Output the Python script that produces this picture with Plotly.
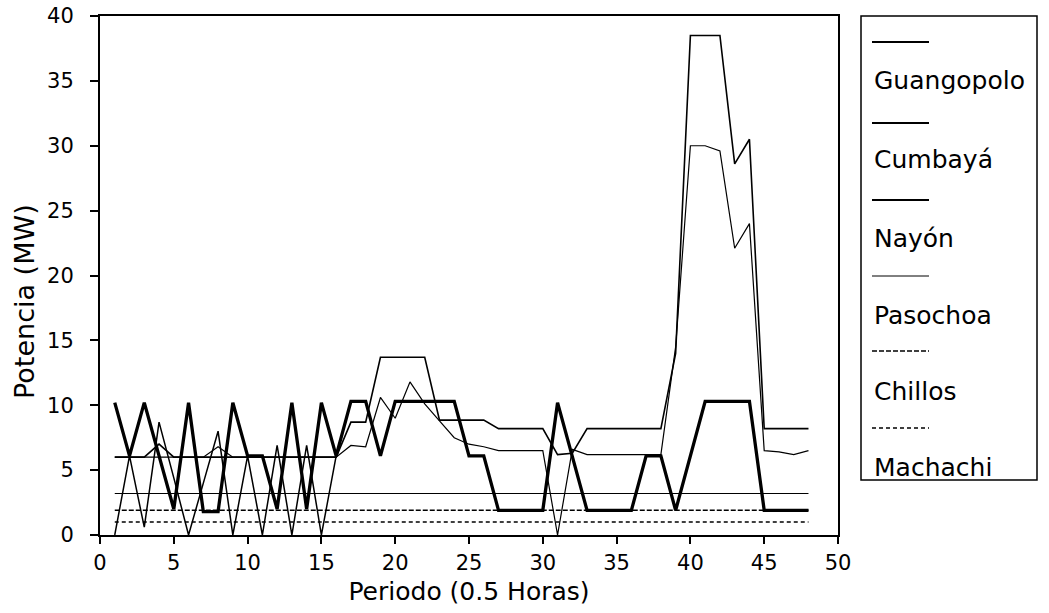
import plotly.graph_objects as go

# ---------------- data ----------------
periods = list(range(1, 49))
periods_b = list(range(1, 17))

guangopolo = [10.2, 6.1, 10.2, 6.1, 2.0, 10.2, 1.8, 1.8, 10.2, 6.1,
              6.1, 2.0, 10.2, 2.0, 10.2, 6.1, 10.3, 10.3, 6.1, 10.3,
              10.3, 10.3, 10.3, 10.3, 6.1, 6.1, 1.9, 1.9, 1.9, 1.9,
              10.2, 6.0, 1.9, 1.9, 1.9, 1.9, 6.1, 6.1, 1.9, 6.1,
              10.3, 10.3, 10.3, 10.3, 1.9, 1.9, 1.9, 1.9]

# second (thin) zig-zag trace visible in the first half of the day
guangopolo_b = [0.0, 6.1, 0.6, 8.7, 4.4, 0.0, 4.0, 8.0, 0.0, 6.1,
                0.0, 6.9, 0.0, 6.9, 0.0, 6.1]

cumbaya = [6.0, 6.0, 6.0, 7.0, 6.0, 6.0, 6.0, 6.0, 6.0, 6.0,
           6.0, 6.0, 6.0, 6.0, 6.0, 6.0, 8.7, 8.7, 13.7, 13.7,
           13.7, 13.7, 8.85, 8.85, 8.85, 8.85, 8.2, 8.2, 8.2, 8.2,
           6.2, 6.3, 8.2, 8.2, 8.2, 8.2, 8.2, 8.2, 14.0, 38.5,
           38.5, 38.5, 28.6, 30.5, 8.2, 8.2, 8.2, 8.2]

nayon = [6.0, 6.0, 6.0, 6.0, 6.0, 6.0, 6.0, 6.8, 6.0, 6.0,
         6.0, 6.0, 6.0, 6.0, 6.0, 6.0, 6.9, 6.8, 10.6, 9.0,
         11.8, 10.1, 8.8, 7.5, 7.0, 6.8, 6.5, 6.5, 6.5, 6.5,
         0.0, 6.6, 6.2, 6.2, 6.2, 6.2, 6.2, 6.2, 14.5, 30.0,
         30.0, 29.6, 22.1, 24.0, 6.5, 6.4, 6.2, 6.5]

pasochoa = [3.2, 3.2, 3.2, 3.2, 3.2, 3.2, 3.2, 3.2, 3.2, 3.2,
            3.2, 3.2, 3.2, 3.2, 3.2, 3.2, 3.2, 3.2, 3.2, 3.2,
            3.2, 3.2, 3.2, 3.2, 3.2, 3.2, 3.2, 3.2, 3.2, 3.2,
            3.2, 3.2, 3.2, 3.2, 3.2, 3.2, 3.2, 3.2, 3.2, 3.2,
            3.2, 3.2, 3.2, 3.2, 3.2, 3.2, 3.2, 3.2]

chillos = [1.9, 1.9, 1.9, 1.9, 1.9, 1.9, 1.9, 1.9, 1.9, 1.9,
           1.9, 1.9, 1.9, 1.9, 1.9, 1.9, 1.9, 1.9, 1.9, 1.9,
           1.9, 1.9, 1.9, 1.9, 1.9, 1.9, 1.9, 1.9, 1.9, 1.9,
           1.9, 1.9, 1.9, 1.9, 1.9, 1.9, 1.9, 1.9, 1.9, 1.9,
           1.9, 1.9, 1.9, 1.9, 1.9, 1.9, 1.9, 1.9]

machachi = [1.0, 1.0, 1.0, 1.0, 1.0, 1.0, 1.0, 1.0, 1.0, 1.0,
            1.0, 1.0, 1.0, 1.0, 1.0, 1.0, 1.0, 1.0, 1.0, 1.0,
            1.0, 1.0, 1.0, 1.0, 1.0, 1.0, 1.0, 1.0, 1.0, 1.0,
            1.0, 1.0, 1.0, 1.0, 1.0, 1.0, 1.0, 1.0, 1.0, 1.0,
            1.0, 1.0, 1.0, 1.0, 1.0, 1.0, 1.0, 1.0]

names = ["Guangopolo", "Cumbayá", "Nayón", "Pasochoa", "Chillos", "Machachi"]
series = [guangopolo, cumbaya, nayon, pasochoa, chillos, machachi]

# ---------------- styles ----------------
FONT = "DejaVu Sans"
line_widths = [3.3, 1.6, 1.2, 1.1, 1.5, 1.5]
line_dashes = ["solid", "solid", "solid", "solid", "5px,2px", "4px,3px"]
legend_widths = [1.8, 1.8, 1.8, 1.0, 1.5, 1.5]

fig = go.Figure()

order = [5, 4, 3, 2, 1]
for i in order:
    fig.add_trace(go.Scatter(
        x=periods, y=series[i], mode="lines", name=names[i],
        line=dict(color="black", width=line_widths[i], dash=line_dashes[i]),
        showlegend=False))

fig.add_trace(go.Scatter(
    x=periods_b, y=guangopolo_b, mode="lines", name="Guangopolo (2)",
    line=dict(color="black", width=1.5), showlegend=False))

fig.add_trace(go.Scatter(
    x=periods, y=series[0], mode="lines", name=names[0],
    line=dict(color="black", width=line_widths[0], dash=line_dashes[0]),
    showlegend=False))

# ---------------- custom legend (sample above label) ----------------
L, R, T, B = 100, 211, 16, 78
W, H = 1049, 613
pw, ph = W - L - R, H - T - B


def px_x(px):
    return (px - L) / pw


def px_y(py):
    return (H - B - py) / ph


shapes = [dict(type="rect", xref="paper", yref="paper",
               x0=px_x(861), x1=px_x(1037), y0=px_y(480), y1=px_y(16),
               line=dict(color="black", width=1.5), fillcolor="white", layer="below")]
annotations = []
sample_y = [42, 123, 200, 276, 351, 428]
label_y = [80, 160, 238, 315, 391, 467]
for i, nm in enumerate(names):
    shapes.append(dict(type="line", xref="paper", yref="paper",
                       x0=px_x(872), x1=px_x(929), y0=px_y(sample_y[i]), y1=px_y(sample_y[i]),
                       line=dict(color="black", width=legend_widths[i], dash=line_dashes[i])))
    annotations.append(dict(xref="paper", yref="paper", x=px_x(872), y=px_y(label_y[i]),
                            text=nm, showarrow=False, xanchor="left", yanchor="middle",
                            font=dict(family=FONT, size=25, color="black")))

annotations.append(dict(xref="paper", yref="paper", x=px_x(24), y=px_y(302),
                        text="Potencia (MW)", textangle=-90, showarrow=False,
                        xanchor="center", yanchor="middle",
                        font=dict(family=FONT, size=27, color="black")))

fig.update_layout(
    width=W, height=H,
    margin=dict(l=L, r=R, t=T, b=B, autoexpand=False),
    paper_bgcolor="white", plot_bgcolor="white",
    font=dict(family=FONT, color="black", size=21),
    shapes=shapes, annotations=annotations,
    showlegend=False,
)

fig.update_xaxes(
    range=[0, 50], dtick=5, tick0=0,
    ticks="outside", ticklen=7, tickwidth=1.5, tickcolor="black",
    showgrid=False, zeroline=False, automargin=False,
    showline=True, linewidth=2, linecolor="black", mirror=True,
    tickfont=dict(family=FONT, size=21),
    ticklabelstandoff=1,
    title=dict(text="Periodo (0.5 Horas)", font=dict(family=FONT, size=25), standoff=8),
)
fig.update_yaxes(
    range=[0, 40], dtick=5, tick0=0,
    ticks="outside", ticklen=8, tickwidth=1.5, tickcolor="black",
    showgrid=False, zeroline=False, automargin=False,
    showline=True, linewidth=2, linecolor="black", mirror=True,
    tickfont=dict(family=FONT, size=21),
    ticklabelstandoff=12,
)

fig.write_html("out.html")
